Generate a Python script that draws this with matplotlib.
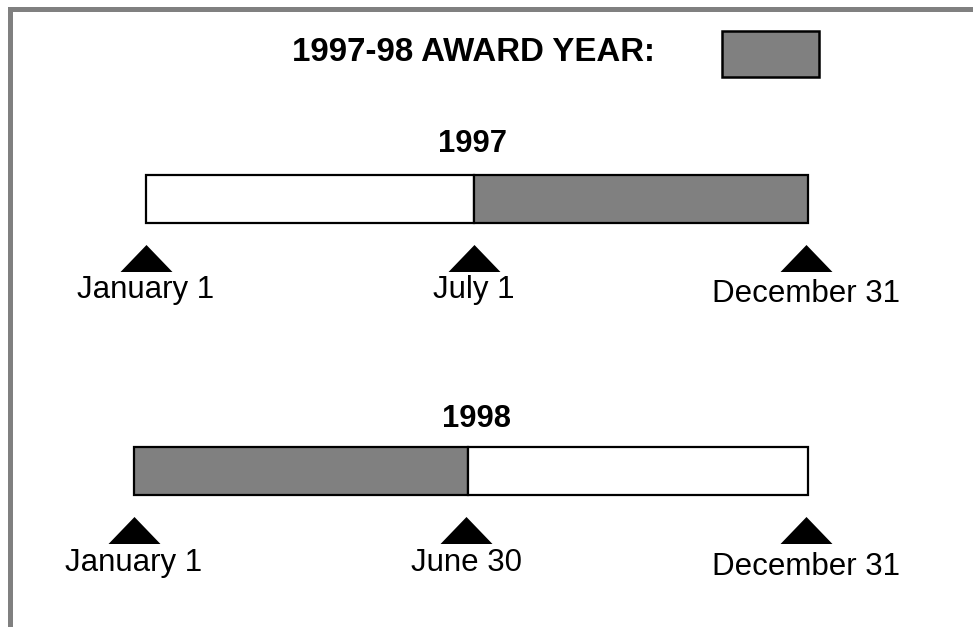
import matplotlib
matplotlib.use("Agg")
import matplotlib.pyplot as plt
from matplotlib.patches import Rectangle

plt.rcParams['font.family'] = ['Liberation Sans', 'DejaVu Sans']

# data
legend_title = "1997-98 AWARD YEAR:"
years = ["1997", "1998"]
mark_days = [[0, 181, 364], [0, 180, 364]]
mark_labels = [["January 1", "July 1", "December 31"],
               ["January 1", "June 30", "December 31"]]
# (start day, end day, inside award year)
segments = [[(0, 181, False), (181, 365, True)],
            [(0, 181, True), (181, 365, False)]]

gray = "#808080"
W, H = 973, 627

fig = plt.figure(figsize=(W / 100, H / 100), dpi=100)
bg = fig.add_axes([0, 0, 1, 1])
bg.set_xlim(0, W); bg.set_ylim(H, 0)
bg.axis("off")

# frame on top and left side
bg.plot([9.5, 9.5, W], [H, 8.5, 8.5], color=gray, lw=3.6,
        solid_joinstyle="miter", solid_capstyle="butt")

# legend
bg.text(292, 61, legend_title, fontsize=23.8, fontweight="bold",
        ha="left", va="baseline")
bg.add_patch(Rectangle((722, 31), 97, 46, fc=gray, ec="black", lw=1.8))

# layout per row: pixel x of day 0 and day 364, bar y, triangle y, label y, title
row_x = [(146, 806), (134, 806)]
bar_y = [199, 471]
tri_y = [257.5, 529.5]
lab_y = [298, 571]
title_pos = [(472, 152), (476, 427)]

tri = [(-1, -0.52), (1, -0.52), (0, 0.52), (-1, -0.52)]

for i, yr in enumerate(years):
    l, r = row_x[i]
    ax = fig.add_axes([l / W, 0, (r - l) / W, 1])
    ax.set_xlim(0, 364); ax.set_ylim(H, 0)
    ax.axis("off")
    for s, e, shaded in segments[i]:
        ax.barh(bar_y[i], e - s, left=s, height=48,
                color=gray if shaded else "white",
                edgecolor="black", lw=1.6, clip_on=False)
    ax.plot(mark_days[i], [tri_y[i]] * len(mark_days[i]), ls="none",
            marker=tri, ms=37.4, color="black", mew=0, clip_on=False)
    for d, lab in zip(mark_days[i], mark_labels[i]):
        dy = 4 if lab.startswith("December") else 0
        ax.text(d, lab_y[i] + dy, lab, fontsize=22.5, ha="center",
                va="baseline", clip_on=False)
    bg.text(title_pos[i][0], title_pos[i][1], yr, fontsize=22.2,
            fontweight="bold", ha="center", va="baseline")

fig.savefig("out.png", dpi=100)
